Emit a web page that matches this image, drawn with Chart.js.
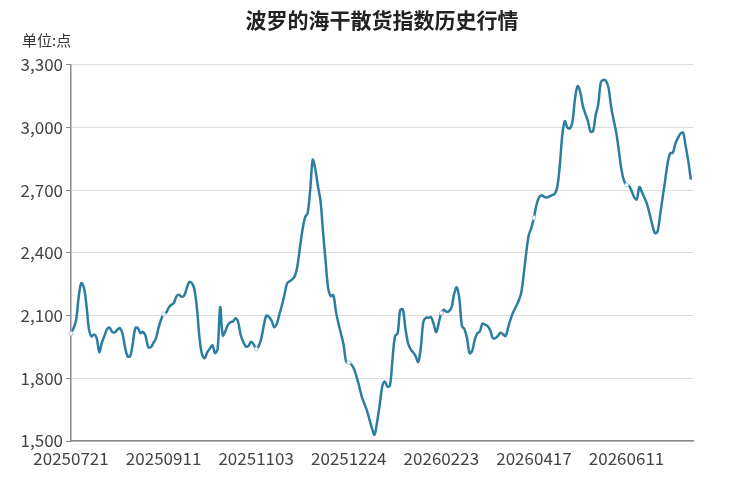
<!DOCTYPE html>
<html>
<head>
<meta charset="utf-8">
<script src="https://cdn.jsdelivr.net/npm/chart.js@4.4.1/dist/chart.umd.min.js"></script>
<style>
body { margin: 0; background: #fff; }
#wrap { position: relative; width: 750px; height: 482px; }
#title { position: absolute; left: 0; width: 764px; top: 9px; text-align: center; font: bold 21px "Noto Sans CJK SC"; line-height: 1; color: #222; }
#unit { position: absolute; left: 22px; top: 32px; font: 15px "Noto Sans CJK SC"; line-height: 1; color: #333; }
</style>
</head>
<body>
<div id="wrap">
<canvas id="chart" width="750" height="482"></canvas>
<div id="title">波罗的海干散货指数历史行情</div>
<div id="unit">单位:点</div>
</div>
<script>
// tick labels shown every 36 points, tick marks half way between them
var xTickLabels = ["20250721", "20250911", "20251103", "20251224", "20260223", "20260417", "20260611"];
var labelEvery = 36;
var axisPoints = 243;

var yTicks = [1500, 1800, 2100, 2400, 2700, 3000, 3300];

// index values, one per trading day
var values = [
    2014, 2040, 2078, 2190, 2255, 2235, 2150, 2035, 2000, 2010,
    1992, 1925, 1970, 2003, 2035, 2042, 2022, 2020, 2032, 2040,
    2015, 1950, 1905, 1905, 1965, 2040, 2040, 2016, 2022, 2002,
    1950, 1948, 1968, 1990, 2040, 2080, 2108, 2114, 2138, 2152,
    2160, 2192, 2200, 2190, 2195, 2230, 2261, 2255, 2225, 2130,
    1990, 1912, 1896, 1925, 1942, 1958, 1921, 1940, 2140, 2005,
    2025, 2055, 2068, 2072, 2087, 2068, 2006, 1974, 1952, 1955,
    1975, 1963, 1940, 1955, 1990, 2055, 2100, 2092, 2075, 2045,
    2060, 2105, 2148, 2200, 2253, 2264, 2273, 2288, 2335, 2425,
    2510, 2570, 2590, 2700, 2845, 2800, 2720, 2650, 2500, 2360,
    2230, 2193, 2198, 2120, 2062, 2012, 1960, 1878, 1875, 1866,
    1846, 1808, 1765, 1715, 1680, 1648, 1605, 1562, 1530, 1590,
    1670, 1760, 1785, 1760, 1765, 1890, 2002, 2015, 2126, 2130,
    2040, 1970, 1940, 1925, 1905, 1878, 1945, 2070, 2090, 2090,
    2092, 2060, 2020, 2065, 2112, 2128, 2118, 2122, 2140, 2205,
    2235, 2180, 2050, 2035, 1990, 1920, 1932, 1985, 2015, 2025,
    2062, 2056, 2050, 2030, 1992, 1992, 2003, 2018, 2010, 2002,
    2045, 2085, 2118, 2142, 2170, 2205, 2295, 2400, 2485, 2520,
    2568, 2630, 2665, 2676, 2668, 2665, 2670, 2676, 2682, 2710,
    2810, 2960, 3030, 3000, 2995, 3030, 3140, 3198, 3170, 3103,
    3065, 3030, 2980, 2982, 3060, 3110, 3215, 3227, 3222, 3190,
    3099, 3035, 2975, 2890, 2800, 2745, 2724, 2720, 2695, 2665,
    2656, 2715, 2690, 2662, 2632, 2585, 2535, 2495, 2500, 2575,
    2662, 2745, 2830, 2877, 2879, 2924, 2950, 2970, 2975, 2910,
    2840, 2750
];

var categories = [];
for (var i = 0; i < axisPoints; i++) {
    categories.push(i % labelEvery == 0 && i / labelEvery < xTickLabels.length ? xTickLabels[i / labelEvery] : "");
}

var font = { family: "Noto Sans CJK SC", size: 17 };

new Chart(document.getElementById("chart"), {
    type: "line",
    data: {
        labels: categories,
        datasets: [{
            data: values,
            borderColor: "#2b7ea1",
            borderWidth: 2.5,
            tension: 0.35,
            pointRadius: function (ctx) { return ctx.dataIndex % labelEvery == 0 ? 2 : 0; },
            pointBackgroundColor: "#ffffff",
            pointBorderColor: "#a9cadb",
            pointBorderWidth: 1,
            pointHoverRadius: 0
        }]
    },
    options: {
        responsive: false,
        animation: false,
        devicePixelRatio: 1,
        layout: { padding: { left: 0, right: 56.6, top: 64.7, bottom: 6 } },
        plugins: {
            legend: { display: false },
            tooltip: { enabled: false }
        },
        scales: {
            x: {
                grid: {
                    drawOnChartArea: false,
                    tickLength: 4,
                    tickColor: function (ctx) { return ctx.index % labelEvery == labelEvery / 2 ? "#888" : "rgba(0,0,0,0)"; }
                },
                border: { color: "#888", width: 1.5 },
                ticks: {
                    autoSkip: false,
                    maxRotation: 0,
                    minRotation: 0,
                    padding: 3,
                    font: font,
                    color: "#444",
                    callback: function (val, i) {
                        if (categories[i]) return categories[i];
                        if (i % labelEvery == labelEvery / 2) return "";
                        return null;
                    }
                },
                afterFit: function (scale) { scale.height = 35; }
            },
            y: {
                min: yTicks[0],
                max: yTicks[yTicks.length - 1],
                afterBuildTicks: function (scale) {
                    scale.ticks = yTicks.map(function (v) { return { value: v }; });
                },
                grid: { color: "#dddddd", lineWidth: 1, tickLength: 5, tickColor: "#888" },
                border: { color: "#888", width: 1.5 },
                ticks: {
                    padding: 3,
                    font: font,
                    color: "#444",
                    callback: function (v) { return v.toLocaleString("en-US"); }
                },
                afterFit: function (scale) { scale.width = 71; }
            }
        }
    }
});
</script>
</body>
</html>
